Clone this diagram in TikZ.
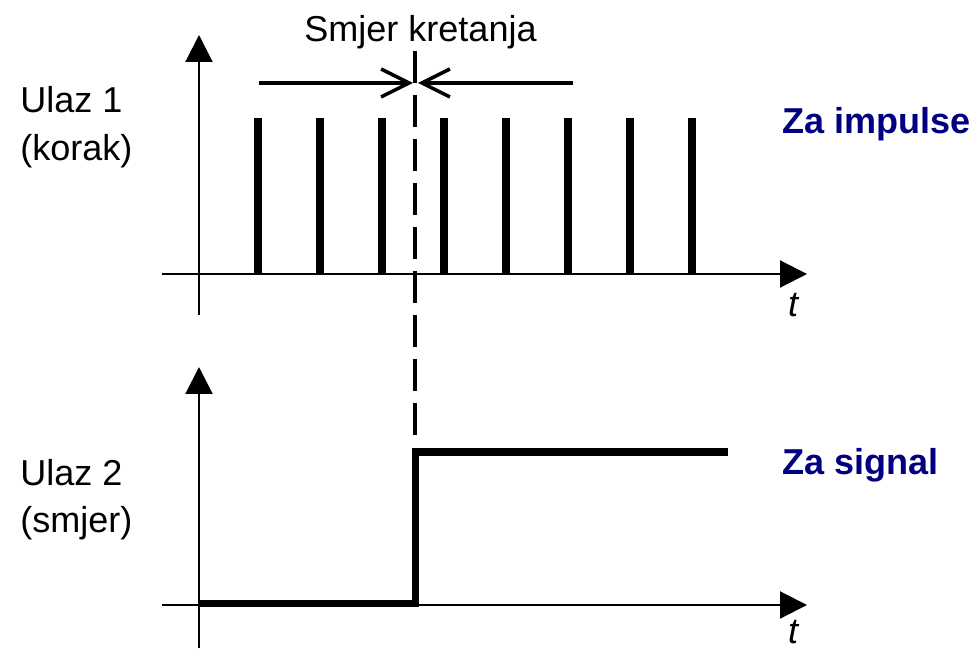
\documentclass[tikz,border=0pt]{standalone}
\usepackage{fontspec}
\setmainfont{Liberation Sans}
\usetikzlibrary{arrows.meta}
\definecolor{navy}{RGB}{0,0,128}

\begin{document}
\begin{tikzpicture}[
  taxis/.style={line width=1.2pt, -{Triangle[length=0.54cm,width=0.54cm]}},
  pulse/.style={line width=4.7pt},
  steplevel/.style={line width=4.3pt, line join=miter},
  marker/.style={line width=2.1pt, dash pattern=on 0.64cm off 0.24cm},
  dirarrow/.style={line width=2pt, -{Straight Barb[length=0.56cm,width=0.56cm]}},
  lbl/.style={font=\fontsize{20.5}{24}\selectfont, inner sep=0pt},
  modelabel/.style={font=\fontsize{20.5}{24}\selectfont\bfseries, text=navy, inner sep=0pt},
]
\useasboundingbox (0,0) rectangle (19.58,12.96);

% Upper axes
\draw[taxis] (3.24,7.48) -- (16.14,7.48);
\draw[taxis] (3.98,6.66) -- (3.98,12.26);
% Step pulses
\foreach \k in {0,...,7}
  \draw[pulse] (5.16+1.24*\k,7.48) -- (5.16+1.24*\k,10.6);

% Direction arrows
\draw[dirarrow] (5.18,11.3) -- (8.26,11.3);
\draw[dirarrow] (11.46,11.3) -- (8.36,11.3);
\draw[marker] (8.3,11.94) -- (8.3,4.02); % switching instant

% Lower axes
\draw[taxis] (3.24,0.86) -- (16.14,0.86);
\draw[taxis] (3.98,0) -- (3.98,5.62);
\draw[steplevel] (3.98,0.89) -- (8.31,0.89) -- (8.31,3.92) -- (14.56,3.92); % Direction signal

% Labels
\node[lbl, anchor=base] (smjer) at (8.41,12.12) {Smjer kretanja};
\node[lbl, anchor=base west] (ulaz1) at (0.4,10.7) {Ulaz 1};
\node[lbl, anchor=base west] (korak) at (0.4,9.74) {(korak)};
\node[lbl, anchor=base west] (ulaz2) at (0.4,3.26) {Ulaz 2};
\node[lbl, anchor=base west] (smjer2) at (0.4,2.32) {(smjer)};
\node[modelabel, anchor=base west] (impulse) at (15.64,10.28) {Za impulse};
\node[modelabel, anchor=base west] (signal) at (15.64,3.48) {Za signal};
\node[lbl, anchor=base] (t1) at (15.86,6.62) {\itshape t};
\node[lbl, anchor=base] (t2) at (15.86,0.1) {\itshape t};

\end{tikzpicture}
\end{document}
